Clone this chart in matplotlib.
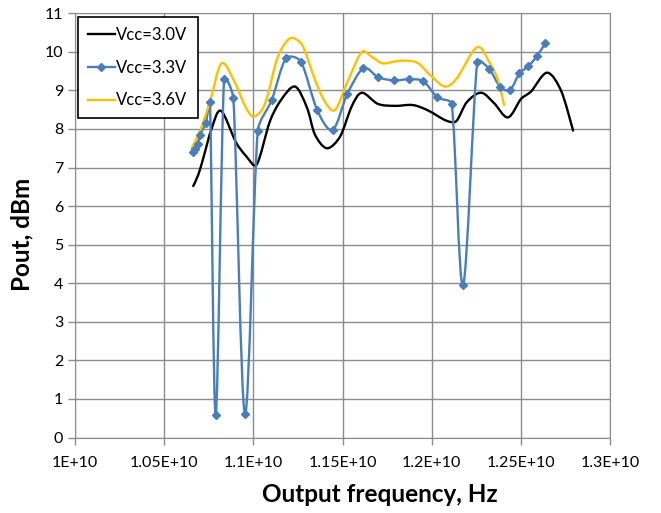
import numpy as np
import matplotlib
matplotlib.use("Agg")
import matplotlib.pyplot as plt
from matplotlib.path import Path
from matplotlib.patches import PathPatch
from matplotlib.lines import Line2D

plt.rcParams['font.family'] = ['Lato', 'DejaVu Sans']

# Vcc = 3.0 V (smoothed line, no markers)
f_30 = [1.0663, 1.0691, 1.0719, 1.0767, 1.0819, 1.0903, 1.0959, 1.1018, 1.1093,
        1.1155, 1.1234, 1.1301, 1.1346, 1.1413, 1.1486, 1.1553, 1.1609, 1.1699,
        1.1794, 1.1895, 1.1980, 1.2080, 1.2137, 1.2198, 1.2277, 1.2350, 1.2428,
        1.2501, 1.2557, 1.2647, 1.2725, 1.2793]
p_30 = [6.52, 6.81, 7.24, 8.02, 8.47, 7.65, 7.30, 7.07, 8.20,
        8.75, 9.10, 8.55, 7.85, 7.50, 7.80, 8.60, 8.94, 8.65,
        8.60, 8.62, 8.48, 8.22, 8.20, 8.70, 8.94, 8.67, 8.30,
        8.78, 8.97, 9.46, 9.00, 7.96]

# Vcc = 3.3 V (smoothed line with markers)
f_33 = [1.0663, 1.0672, 1.0688, 1.0701, 1.0733, 1.0757, 1.0789, 1.0836, 1.0888,
        1.0953, 1.1025, 1.1103, 1.1183, 1.1266, 1.1359, 1.1445, 1.1527, 1.1617,
        1.1701, 1.1789, 1.1873, 1.1953, 1.2032, 1.2112, 1.2176, 1.2256, 1.2322,
        1.2383, 1.2439, 1.2492, 1.2542, 1.2589, 1.2636]
p_33 = [7.40, 7.48, 7.62, 7.85, 8.15, 8.70, 0.58, 9.30, 8.80,
        0.61, 7.95, 8.75, 9.83, 9.75, 8.48, 7.98, 8.91, 9.57,
        9.34, 9.26, 9.29, 9.24, 8.82, 8.65, 3.95, 9.75, 9.56,
        9.10, 9.01, 9.44, 9.63, 9.88, 10.22]

# Vcc = 3.6 V (smoothed line, no markers)
f_36 = [1.0654, 1.0701, 1.0757, 1.0822, 1.0897, 1.0953, 1.0998, 1.1049, 1.1082,
        1.1138, 1.1206, 1.1273, 1.1346, 1.1402, 1.1458, 1.1525, 1.1609, 1.1671,
        1.1727, 1.1823, 1.1918, 1.1991, 1.2075, 1.2142, 1.2254, 1.2327, 1.2372,
        1.2406]
p_36 = [7.50, 7.95, 8.71, 9.70, 9.20, 8.60, 8.32, 8.50, 8.90,
        9.88, 10.35, 10.18, 9.27, 8.70, 8.49, 9.19, 10.00, 9.85,
        9.70, 9.77, 9.72, 9.40, 9.10, 9.32, 10.12, 9.70, 9.27,
        8.62]

x_ticks = [1.0e10, 1.05e10, 1.1e10, 1.15e10, 1.2e10, 1.25e10, 1.3e10]
x_labels = ["1E+10", "1.05E+10", "1.1E+10", "1.15E+10", "1.2E+10", "1.25E+10", "1.3E+10"]

BLUE, YELLOW, GRID = "#4A7EBB", "#FFC000", "#8C8C8C"
SX, SY = 535 / 0.3, 38.57   # rough screen scale so the smoothing behaves like on the chart


def smooth_path(x, y):
    # smoothed line: cardinal-style Beziers, arms limited by segment length (less overshoot)
    P = np.column_stack([np.asarray(x) * SX, np.asarray(y) * SY])
    n = len(P)
    tang = []
    for i in range(n):
        d = P[min(i + 1, n - 1)] - P[max(i - 1, 0)]
        tang.append(d / (np.hypot(*d) or 1.0))
    verts, codes = [P[0]], [Path.MOVETO]
    for i in range(n - 1):
        seg = np.hypot(*(P[i + 1] - P[i]))
        a_full = np.hypot(*(P[min(i + 1, n - 1)] - P[max(i - 1, 0)])) / 6
        b_full = np.hypot(*(P[min(i + 2, n - 1)] - P[i])) / 6
        c1 = P[i] + tang[i] * min(a_full, seg / 3)
        c2 = P[i + 1] - tang[i + 1] * min(b_full, seg / 3)
        verts += [c1, c2, P[i + 1]]
        codes += [Path.CURVE4] * 3
    V = np.array(verts)
    V[:, 0] = V[:, 0] / SX * 1e10
    V[:, 1] = V[:, 1] / SY
    return Path(V, codes)


fig = plt.figure(figsize=(6.61, 5.13), dpi=100)
ax = fig.add_axes([75 / 661, 1 - 437.5 / 513, 535 / 661, 424.2 / 513])

for f, p, c in [(f_30, p_30, "black"), (f_33, p_33, BLUE), (f_36, p_36, YELLOW)]:
    ax.add_patch(PathPatch(smooth_path(f, p), fill=False, ec=c, lw=1.7,
                           capstyle="round", joinstyle="round", zorder=3))
ax.plot(np.array(f_33) * 1e10, p_33, ls="none", marker="D", ms=4.5, color=BLUE, zorder=4)

ax.set_xlim(1.0e10, 1.3e10)
ax.set_ylim(0, 11)
ax.set_xticks(x_ticks)
ax.set_xticklabels(x_labels)
ax.set_yticks(range(0, 12))
ax.grid(True, color=GRID, lw=1.0)
ax.set_axisbelow(True)
for s in ax.spines.values():
    s.set_color(GRID)
ax.tick_params(axis="both", colors=GRID, length=5, width=1, labelcolor="black", labelsize=11.5)
ax.tick_params(axis="x", pad=8)

ax.set_xlabel("Output frequency, Hz", fontsize=17.5, fontweight="bold")
ax.set_ylabel("Pout, dBm", fontsize=17.5, fontweight="bold")
ax.xaxis.set_label_coords((380 - 75) / 535, -(495 - 437.5) / 424.2)
ax.yaxis.set_label_coords(-(75 - 22) / 535, (437.5 - 234) / 424.2)
ax.xaxis.label.set_va("center")
ax.yaxis.label.set_va("center")

handles = [Line2D([], [], color="black", lw=1.7),
           Line2D([], [], color=BLUE, lw=1.7, marker="D", ms=4),
           Line2D([], [], color=YELLOW, lw=1.7)]
leg = ax.legend(handles, ["Vcc=3.0V", "Vcc=3.3V", "Vcc=3.6V"], loc="upper left",
                bbox_to_anchor=(3 / 535, 0.991), borderaxespad=0, fontsize=12,
                fancybox=False, framealpha=1, edgecolor="black", handlelength=1.6,
                handletextpad=0.1, labelspacing=1.0, borderpad=0.6)
leg.get_frame().set_linewidth(1.2)

fig.savefig("out.png", dpi=100)
